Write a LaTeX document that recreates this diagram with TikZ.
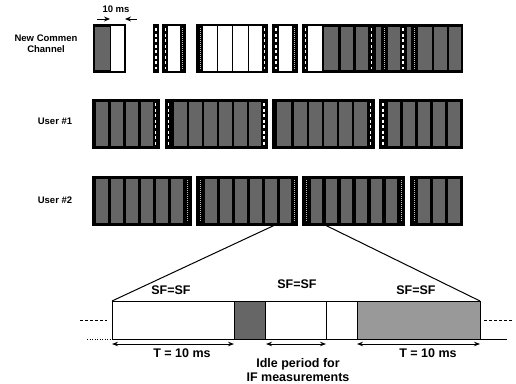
\documentclass[tikz,border=0pt]{standalone}
\usepackage{fontspec}
\setmainfont{Liberation Sans}
\usetikzlibrary{arrows.meta}
\newcommand{\mystripD}[3]{\draw[dstrip] (#1,#2+3)--(#1,#3-3);}
\newcommand{\mystripO}[3]{\draw[ostrip] (#1,#2+3)--(#1,#3-3);}
\newcommand{\mygray}[3]{\foreach \a/\b in {#3} {\fill[gcol] (\a+0.5,#1+2) rectangle (\b-0.5,#2-2);}}
\begin{document}
\begin{tikzpicture}[x=1pt,y=-1pt,
 blk/.style={draw=black,line width=1.3pt,fill=black},
 wblk/.style={draw=black,line width=1.3pt,fill=white},
 gcol/.style={fill=black!60},
 dstrip/.style={draw=white,line width=1.3pt,dash pattern=on 3pt off 2.5pt},
 ostrip/.style={draw=white!75!black,line width=0.9pt,dash pattern=on 1pt off 1pt},
 sep/.style={draw=black,line width=1pt},
 lbl/.style={font=\fontsize{9.5}{11}\selectfont\bfseries,inner sep=0pt},
 big/.style={font=\fontsize{12.5}{14}\selectfont\bfseries,inner sep=0pt},
 tl/.style={line width=1pt},
 dim/.style={line width=0.9pt,{Stealth[length=6pt,width=4.5pt]}-{Stealth[length=6pt,width=4.5pt]}},
 one/.style={line width=0.9pt,-{Stealth[length=6pt,width=5pt]}},
]
\useasboundingbox (0,0) rectangle (516,383);

% ---------- labels left
\node[lbl] (lnc1) at (46,38) {New Commen};
\node[lbl] (lnc2) at (46,49) {Channel};
\node[lbl] (lu1) at (55,121) {User \#1};
\node[lbl] (lu2) at (55,200) {User \#2};

% ---------- 10 ms marker
\node[lbl] (tms) at (116,9) {10 ms};
\coordinate (ma1) at (97,19);
\coordinate (ma2) at (110,19);
\coordinate (mb1) at (137,19);
\coordinate (mb2) at (125,19);
\draw[one] (ma1) -- (ma2);
\draw[one] (mb1) -- (mb2);

% ---------- Top row: New Common Channel (y 25..72)
% A
\draw[wblk] (94,25) rectangle (125,72);
\fill[black] (94,25) rectangle (110,72);
\mygray{25}{72}{94.5/110}
\draw[sep] (110,25) -- (110,72);
% B
\draw[blk] (154,25) rectangle (158,72);
\mystripD{156}{25}{72}
% C
\draw[wblk] (163,25) rectangle (185,72);
\fill[black] (163,25) rectangle (168,72);
\mystripD{165.5}{25}{72}
\fill[black] (180,25) rectangle (185,72);
\mystripO{182.5}{25}{72}
% D
\draw[wblk] (197,25) rectangle (267,72);
\fill[black] (197,25) rectangle (203,72);
\mystripO{200}{25}{72}
\foreach \x in {217,232,248} {\draw[sep] (\x,25) -- (\x,72);}
\fill[black] (262,25) rectangle (267,72);
\mystripD{264.5}{25}{72}
% E
\draw[wblk] (273,25) rectangle (297,72);
\fill[black] (273,25) rectangle (279,72);
\mystripD{276}{25}{72}
\fill[black] (292,25) rectangle (297,72);
\mystripO{294.5}{25}{72}
% F
\draw[blk] (303,25) rectangle (462,72);
\mystripD{305.5}{25}{72}
\fill[white] (308,26) rectangle (322,71);
\mygray{25}{72}{323/338,340/353,355/368,375/381,387/400,406/411,417/432,433/447,448/461}
\mystripD{371.5}{25}{72}
\mystripO{384}{25}{72}
\mystripD{403}{25}{72}
\mystripO{414}{25}{72}

% ---------- User #1 (y 100..148)
\draw[blk] (93,100) rectangle (159,148);
\mygray{100}{148}{95/108,110/123,125/138,140/153}
\mystripD{155.5}{100}{148}
\draw[blk] (166,100) rectangle (267,148);
\mystripD{168.5}{100}{148}
\mygray{100}{148}{173/187,188/202,203/217,218/232,233/247,248/261}
\mystripD{264}{100}{148}
\draw[blk] (273,100) rectangle (374,148);
\mygray{100}{148}{276/291,293/307,308/322,323/337,338/352,353/367}
\mystripD{370.5}{100}{148}
\draw[blk] (380,100) rectangle (462,148);
\mystripD{383}{100}{148}
\mygray{100}{148}{387/400,402/415,417/430,432/445,447/460}

% ---------- User #2 (y 177..225)
\draw[blk] (93,177) rectangle (191,225);
\mygray{177}{225}{95/108,110/123,125/138,140/153,155/168,170/183}
\mystripO{187}{177}{225}
\draw[blk] (197,177) rectangle (297,225);
\mystripO{200}{177}{225}
\mygray{177}{225}{204/217,219/232,234/247,249/262,264/277,279/291}
\mystripO{294}{177}{225}
\draw[blk] (303,177) rectangle (404,225);
\mystripO{306}{177}{225}
\mygray{177}{225}{310/322,325/337,340/352,355/367,370/382,385/397}
\mystripO{401}{177}{225}
\draw[blk] (411,177) rectangle (462,225);
\mystripO{414}{177}{225}
\mygray{177}{225}{417/430,432/445,447/460}

% ---------- zoom lines
\coordinate (za) at (275,225);
\coordinate (zb) at (325,225);
\coordinate (p0) at (112,301);
\coordinate (p5) at (480,301);
\draw[tl] (za) -- (p0);
\draw[tl] (zb) -- (p5);

% ---------- bottom timeline (y 301..339)
\draw[tl,fill=white] (112,301) rectangle (234,339);
\draw[tl,fill=black!60] (234,301) rectangle (265,339);
\draw[tl,fill=white] (265,301) rectangle (326,339);
\draw[tl,fill=white] (326,301) rectangle (357,339);
\draw[tl,fill=black!40] (357,301) rectangle (480,339);
\coordinate (q5) at (480,339);
\coordinate (qe) at (507,339);
\draw[tl] (q5) -- (qe);
\coordinate (q0) at (112,339);
\coordinate (qs) at (87,339);
\draw[line width=0.8pt,dash pattern=on 1pt off 1.5pt] (qs) -- (q0);
\coordinate (dl1) at (80,320);
\coordinate (dl2) at (107,320);
\draw[line width=0.8pt,dash pattern=on 3pt off 2pt] (dl1) -- (dl2);
\coordinate (dr1) at (484,320);
\coordinate (dr2) at (513,320);
\draw[line width=0.8pt,dash pattern=on 3pt off 2pt] (dr1) -- (dr2);

% SF labels
\node[big] (sf1) at (171,290) {SF=SF};
\node[big] (sf2) at (297,284) {SF=SF};
\node[big] (sf3) at (416,290) {SF=SF};

% dimension arrows
\coordinate (a1) at (112,344);
\coordinate (a2) at (234,344);
\coordinate (b1) at (266,344);
\coordinate (b2) at (326,344);
\coordinate (c1) at (357,344);
\coordinate (c2) at (480,344);
\draw[dim] (a1) -- (a2);
\draw[dim] (b1) -- (b2);
\draw[dim] (c1) -- (c2);
\node[big] (t1) at (182,353) {T = 10 ms};
\node[big] (t2) at (428,353) {T = 10 ms};
\node[big] (id1) at (298,364) {Idle period for};
\node[big] (id2) at (298,377) {IF measurements};
\end{tikzpicture}
\end{document}
